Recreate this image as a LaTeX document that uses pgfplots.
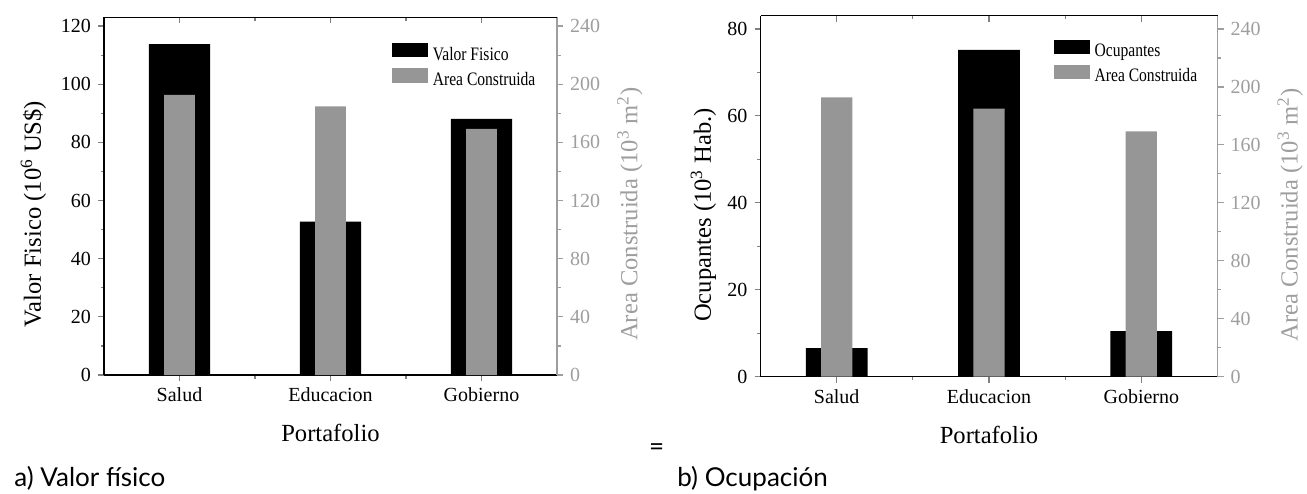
\documentclass[border=0pt]{standalone}
\usepackage{pgfplots}
\pgfplotsset{compat=1.18}
\usepackage{fontspec}
\setmainfont{Liberation Serif}
\newfontfamily\capfont{Lato}
\newfontfamily\legfont{Liberation Serif}[FakeStretch=0.82]
\definecolor{bargray}{RGB}{150,150,150}
\definecolor{axgray}{RGB}{158,158,158}

\tikzset{
  labfont/.style={font=\fontsize{12.3}{14}\selectfont},
  legfont/.style={font=\legfont\fontsize{9.5}{11}\selectfont},
}
\pgfplotsset{
  base/.style={
    scale only axis, xmin=-0.5, xmax=2.5, ymin=0,
    /pgf/number format/assume math mode=true,
    tick label style={font=\fontsize{10}{12}\selectfont},
    major tick length=3pt, minor tick length=1.75pt,
    axis line style={line width=0.7pt},
    tick style={line width=0.6pt},
    xtick={0,1,2}, minor x tick num=1,
    clip=false,
  },
  sq/.style={legend image code/.code={\fill[#1] (0pt,-0.85pt) rectangle (17.5pt,5.85pt);}},
}

\begin{document}
\begin{tikzpicture}
\path[use as bounding box] (0,0) rectangle (653.5pt,-246.5pt);

% ---------------- (a) ----------------
\begin{axis}[base, at={(52pt,-187.5pt)}, anchor=south west,
  width=226.5pt, height=178.85pt, ymax=123,
  axis x line*=bottom, axis y line*=left, tick align=outside,
  ytick={0,20,...,120}, minor y tick num=1,
  xticklabels={Salud,Educacion,Gobierno},
  xlabel={Portafolio},
  every axis x label/.style={at={(axis description cs:0.5,-0.1865)}, anchor=base, labfont},
  ylabel={Valor Fisico (10\textsuperscript{6} US\$)},
  every axis y label/.style={at={(axis description cs:-0.156,0.45)}, rotate=90, anchor=center, labfont},
]
\addplot[ybar, bar width=0.405, fill=black, draw=none] coordinates {(0,113.8) (1,52.7) (2,88.1)};
\end{axis}

\begin{axis}[base, at={(52pt,-187.5pt)}, anchor=south west,
  width=226.5pt, height=178.85pt, ymax=246,
  axis x line=none, axis y line*=right, tick align=outside,
  ytick={0,40,...,240}, minor y tick num=1,
  y axis line style={axgray}, ytick style={axgray}, yticklabel style={text=axgray},
  ylabel={Area Construida (10\textsuperscript{3} m\textsuperscript{2})},
  every axis y label/.style={at={(axis description cs:1.161,0.45)}, rotate=90, anchor=center, labfont, text=axgray},
  legend style={at={(axis description cs:0.635,0.929)}, anchor=north west, draw=none, fill=none,
    inner sep=0pt, row sep=2.6pt, column sep=2.5pt, nodes={inner sep=0pt, text=black, legfont}},
  legend cell align=left,
]
\addlegendimage{sq=black}
\addlegendentry{Valor Fisico}
\addlegendimage{sq=bargray}
\addlegendentry{Area Construida}
\addplot[ybar, bar width=0.205, fill=bargray, draw=none, forget plot] coordinates {(0,192.6) (1,184.8) (2,169.2)};
\end{axis}

\begin{axis}[base, at={(52pt,-187.5pt)}, anchor=south west,
  width=226.5pt, height=178.85pt, ymax=1,
  axis x line*=top, axis y line=none, tick align=inside, xticklabels={},
]
\end{axis}

% ---------------- (b) ----------------
\begin{axis}[base, at={(380.25pt,-188.35pt)}, anchor=south west,
  width=228.5pt, height=180.5pt, ymax=83.05,
  axis x line*=bottom, axis y line*=left, tick align=outside,
  ytick={0,20,...,80}, minor y tick num=1,
  xticklabels={Salud,Educacion,Gobierno},
  xlabel={Portafolio},
  every axis x label/.style={at={(axis description cs:0.5,-0.1837)}, anchor=base, labfont},
  ylabel={Ocupantes (10\textsuperscript{3} Hab.)},
  every axis y label/.style={at={(axis description cs:-0.125,0.448)}, rotate=90, anchor=center, labfont},
]
\addplot[ybar, bar width=0.405, fill=black, draw=none] coordinates {(0,6.6) (1,75.2) (2,10.5)};
\end{axis}

\begin{axis}[base, at={(380.25pt,-188.35pt)}, anchor=south west,
  width=228.5pt, height=180.5pt, ymax=249.15,
  axis x line=none, axis y line*=right, tick align=outside,
  ytick={0,40,...,240}, minor y tick num=1,
  y axis line style={axgray}, ytick style={axgray}, yticklabel style={text=axgray},
  ylabel={Area Construida (10\textsuperscript{3} m\textsuperscript{2})},
  every axis y label/.style={at={(axis description cs:1.159,0.448)}, rotate=90, anchor=center, labfont, text=axgray},
  legend style={at={(axis description cs:0.641,0.935)}, anchor=north west, draw=none, fill=none,
    inner sep=0pt, row sep=2.6pt, column sep=2.5pt, nodes={inner sep=0pt, text=black, legfont}},
  legend cell align=left,
]
\addlegendimage{sq=black}
\addlegendentry{Ocupantes}
\addlegendimage{sq=bargray}
\addlegendentry{Area Construida}
\addplot[ybar, bar width=0.205, fill=bargray, draw=none, forget plot] coordinates {(0,192.7) (1,185.1) (2,169.3)};
\end{axis}

\begin{axis}[base, at={(380.25pt,-188.35pt)}, anchor=south west,
  width=228.5pt, height=180.5pt, ymax=1,
  axis x line*=top, axis y line=none, tick align=inside, xticklabels={},
]
\end{axis}

% ---------------- captions ----------------
\node[anchor=base west, inner sep=0pt, font=\capfont\fontsize{13}{15}\selectfont] at (7pt,-243.35pt) {a) Valor físico};
\node[anchor=base west, inner sep=0pt, font=\capfont\fontsize{13}{15}\selectfont] at (338.5pt,-243.35pt) {b) Ocupación};
\node[anchor=center, inner sep=0pt, font=\capfont\fontsize{13}{15}\selectfont] at (328.35pt,-224.75pt) {=};
\end{tikzpicture}
\end{document}
